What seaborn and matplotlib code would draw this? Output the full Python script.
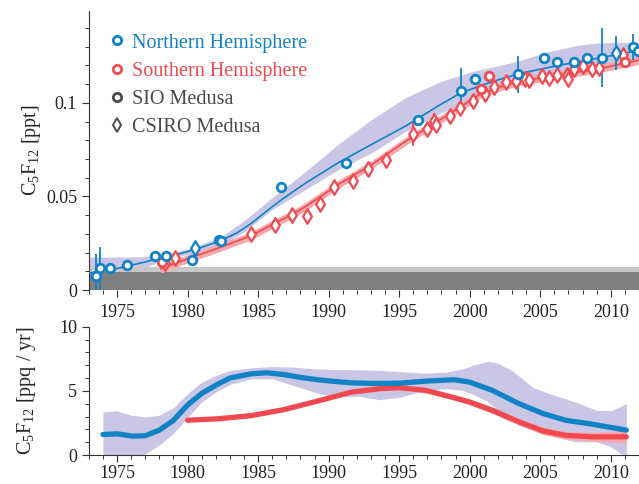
import numpy as np
import pandas as pd
import matplotlib
matplotlib.use("Agg")
import matplotlib.pyplot as plt
from matplotlib.lines import Line2D
from matplotlib.ticker import MultipleLocator
import seaborn as sns

# ---- observations (ppt) ----
nh_sio_year = [1973.5, 1973.8, 1974.5, 1975.7, 1977.7, 1978.5, 1980.3, 1982.2, 1982.4,
               1986.6, 1991.2, 1996.3, 1999.4, 2000.4, 2003.4, 2005.3, 2006.2, 2007.4,
               2008.3, 2009.4, 2011.6, 2011.9]
nh_sio_val = [0.0075, 0.0115, 0.012, 0.0136, 0.018, 0.0183, 0.0158, 0.0265, 0.0263,
              0.0552, 0.068, 0.091, 0.1063, 0.1127, 0.1152, 0.1237, 0.1217, 0.1217,
              0.1238, 0.1242, 0.130, 0.1275]
nh_sio_err = [0.012, 0.0115, 0.001, 0.001, 0.001, 0.001, 0.001, 0.001, 0.001,
              0.001, 0.001, 0.001, 0.0125, 0.001, 0.010, 0.001, 0.001, 0.001,
              0.001, 0.016, 0.007, 0.003]

nh_csiro_year = [1980.5, 2010.4]
nh_csiro_val = [0.0226, 0.1265]
nh_csiro_err = [0.0015, 0.009]

sh_sio_year = [1978.2, 2000.8, 2001.4, 2011.0]
sh_sio_val = [0.0149, 0.1075, 0.1143, 0.1219]
sh_sio_err = [0.001, 0.002, 0.001, 0.003]

sh_csiro_year = [1978.4, 1979.1, 1984.5, 1986.2, 1987.4, 1988.5, 1989.4, 1990.4,
                 1991.7, 1992.8, 1994.1, 1996.0, 1997.0, 1997.5, 1997.6, 1998.6,
                 1999.3, 2000.2, 2001.1, 2001.7, 2002.6, 2003.3, 2003.9, 2004.2,
                 2005.1, 2005.6, 2006.2, 2006.9, 2007.0, 2007.4, 2008.0, 2008.7,
                 2009.2, 2010.9]
sh_csiro_val = [0.0145, 0.017, 0.0298, 0.0346, 0.040, 0.0395, 0.0457, 0.0548,
                0.058, 0.0649, 0.0695, 0.0835, 0.086, 0.0905, 0.0884, 0.0928,
                0.0972, 0.1009, 0.1048, 0.1084, 0.111, 0.1117, 0.1125, 0.112,
                0.1143, 0.1133, 0.1147, 0.115, 0.113, 0.118, 0.1197, 0.118,
                0.1187, 0.1255]
sh_csiro_err = [0.0015, 0.002, 0.0015, 0.0015, 0.002, 0.002, 0.0015, 0.002,
                0.004, 0.0015, 0.0015, 0.0065, 0.002, 0.004, 0.003, 0.002,
                0.002, 0.002, 0.003, 0.002, 0.002, 0.002, 0.002, 0.002,
                0.002, 0.002, 0.002, 0.002, 0.003, 0.003, 0.002, 0.003,
                0.002, 0.003]

# ---- model fits (ppt) ----
nh_fit_year = [1973, 1975, 1977, 1978, 1979, 1980, 1981, 1982.3, 1983.5, 1984.5, 1986.0,
               1986.8, 1988.4, 1990.7, 1993.1, 1995.5, 1997.8, 1999.3, 2000.7, 2002.1,
               2003.5, 2006.3, 2009.2, 2012]
nh_fit_val = [0.009, 0.0115, 0.015, 0.017, 0.0185, 0.0205, 0.0228, 0.0262, 0.0305, 0.0355,
              0.0445, 0.0490, 0.0573, 0.0681, 0.078, 0.0878, 0.0985, 0.1050, 0.109, 0.1125,
              0.1156, 0.120, 0.124, 0.128]

nh_band_year = [1973, 1976, 1978, 1980, 1982.3, 1984, 1986, 1988.4, 1990.7, 1993.1,
                1995.5, 1997.8, 2000.2, 2002.1, 2003.5, 2005.4, 2006.3, 2007.8, 2009.2,
                2010.1, 2012]
nh_band_hi = [0.0176, 0.0176, 0.0185, 0.022, 0.028, 0.037, 0.0493, 0.0636, 0.078, 0.0914,
              0.103, 0.111, 0.1168, 0.120, 0.1225, 0.127, 0.1285, 0.131, 0.132,
              0.1323, 0.1323]
nh_band_lo = [0.005, 0.008, 0.0155, 0.019, 0.024, 0.031, 0.043, 0.0538, 0.0645, 0.0735,
              0.085, 0.094, 0.102, 0.1065, 0.109, 0.1125, 0.1138, 0.115, 0.1165,
              0.118, 0.122]

sh_fit_year = [1978.1, 1980, 1982.2, 1984.5, 1986.0, 1987.4, 1988.4, 1990.7, 1993.1,
               1995.5, 1997.8, 2000.2, 2000.7, 2002.1, 2003.5, 2006.3, 2009.2, 2012]
sh_fit_val = [0.0113, 0.0167, 0.0225, 0.029, 0.035, 0.0403, 0.0448, 0.0565, 0.0672,
              0.0797, 0.0905, 0.102, 0.1045, 0.1085, 0.1115, 0.1147, 0.1183, 0.1228]
sh_fit_err = 0.0022

# ---- growth rates (ppq/yr) ----
nh_rate_year = [1974, 1975, 1976.1, 1977, 1978, 1979, 1980, 1981, 1982.1, 1983, 1984.5,
                1985.6, 1986.8, 1988, 1989.2, 1990.4, 1991.6, 1993, 1995, 1996.9,
                1998.9, 2000, 2001.6, 2003.5, 2005.2, 2006.8, 2008.7, 2011.1]
nh_rate = [1.6, 1.65, 1.47, 1.5, 1.94, 2.7, 3.9, 4.8, 5.5, 6.0, 6.33,
           6.41, 6.28, 6.05, 5.87, 5.74, 5.63, 5.58, 5.6, 5.76,
           5.87, 5.68, 5.04, 4.0, 3.23, 2.71, 2.4, 1.94]

nh_rate_band_year = [1974, 1975, 1976, 1977, 1978, 1979, 1980, 1981, 1982, 1983, 1984.5,
                     1986, 1987.5, 1989, 1990.4, 1992.2, 1993.6, 1995, 1996.9, 1998.3,
                     1999.5, 2000.4, 2001.3, 2002, 2003, 2004.5, 2006, 2007.5, 2009,
                     2010, 2011.1]
nh_rate_hi = [3.36, 3.44, 3.1, 2.97, 3.1, 3.7, 4.78, 5.68, 6.2, 6.59, 6.8,
              6.9, 6.85, 6.72, 6.67, 6.64, 6.59, 6.51, 6.38, 6.46,
              6.72, 7.05, 7.31, 7.15, 6.59, 5.25, 4.65, 4.13, 3.49,
              3.44, 4.0]
nh_rate_lo = [-0.5, -0.5, -0.3, 0.1, 0.78, 1.68, 2.92, 4.13, 4.9, 5.5, 5.94,
              5.94, 5.43, 4.9, 4.52, 4.57, 4.31, 4.5, 5.04, 5.17,
              5.04, 4.65, 4.13, 3.49, 2.71, 2.07, 1.42, 1.03, 1.03,
              0.65, -0.2]

sh_rate_year = [1980, 1982.1, 1984.5, 1986.8, 1989.2, 1991.6, 1993.6, 1995, 1996.9,
                1998.9, 2000, 2001.6, 2003.5, 2005.2, 2006.8, 2008.7, 2011.1]
sh_rate = [2.71, 2.82, 3.07, 3.53, 4.2, 4.9, 5.17, 5.25, 5.04,
           4.47, 4.13, 3.49, 2.58, 1.88, 1.53, 1.42, 1.42]
sh_rate_err = [0.08, 0.08, 0.08, 0.1, 0.1, 0.12, 0.15, 0.15, 0.2,
               0.2, 0.22, 0.25, 0.25, 0.28, 0.3, 0.35, 0.5]

year_ticks = [1975, 1980, 1985, 1990, 1995, 2000, 2005, 2010]

BLUE = "#1282c6"
RED = "#f04a50"
PINK = "#f6a9ad"
LAV = "#c9c7e5"
GREY_TXT = "#4a4a4a"

sns.set_style("ticks")
plt.rcParams["font.family"] = ["Liberation Serif", "DejaVu Serif"]
plt.rcParams["mathtext.fontset"] = "custom"
plt.rcParams["mathtext.rm"] = "Liberation Serif"
plt.rcParams["mathtext.it"] = "Liberation Serif"
plt.rcParams["font.size"] = 13

fig = plt.figure(figsize=(6.39, 4.84), dpi=100)
ax2 = fig.add_axes([0.139, 0.0599, 0.861, 0.2650])
ax1 = fig.add_axes([0.139, 0.4008, 0.861, 0.5762])

# ---------- top panel: mole fractions ----------
ax1.axhspan(0, 0.0098, color="#808080", lw=0, zorder=1)
ax1.axhspan(0.0098, 0.0122, color="#c8c8c8", lw=0, zorder=1)

ax1.fill_between(nh_band_year, nh_band_lo, nh_band_hi, color=LAV, lw=0, zorder=0.5)
sh_lo = np.array(sh_fit_val) - sh_fit_err
sh_hi = np.array(sh_fit_val) + sh_fit_err
ax1.fill_between(sh_fit_year, sh_lo, sh_hi, color=PINK, lw=0, zorder=2)

sns.lineplot(x=nh_fit_year, y=nh_fit_val, ax=ax1, color=BLUE, lw=1.2, zorder=3)
sns.lineplot(x=sh_fit_year, y=sh_fit_val, ax=ax1, color=RED, lw=1.2, zorder=3)

for yrs, vals, errs, col in [(nh_sio_year, nh_sio_val, nh_sio_err, BLUE),
                             (nh_csiro_year, nh_csiro_val, nh_csiro_err, BLUE),
                             (sh_sio_year, sh_sio_val, sh_sio_err, RED),
                             (sh_csiro_year, sh_csiro_val, sh_csiro_err, RED)]:
    ax1.errorbar(yrs, vals, yerr=errs, fmt="none", ecolor=col, elinewidth=1.3,
                 capsize=0, zorder=4)

sns.scatterplot(x=sh_csiro_year, y=sh_csiro_val, ax=ax1, marker="d", s=55,
                facecolor="white", edgecolor=RED, linewidth=1.6, zorder=5)
sns.scatterplot(x=sh_sio_year, y=sh_sio_val, ax=ax1, marker="o", s=38,
                facecolor="white", edgecolor=RED, linewidth=2.0, zorder=5)
sns.scatterplot(x=nh_csiro_year, y=nh_csiro_val, ax=ax1, marker="d", s=55,
                facecolor="white", edgecolor=BLUE, linewidth=1.6, zorder=6)
sns.scatterplot(x=nh_sio_year, y=nh_sio_val, ax=ax1, marker="o", s=38,
                facecolor="white", edgecolor=BLUE, linewidth=2.0, zorder=6)

ax1.set_xlim(1973, 2012)
ax1.set_ylim(0, 0.149)
ax1.yaxis.set_minor_locator(MultipleLocator(0.01))
ax1.set_yticks([0, 0.05, 0.1])
ax1.set_yticklabels(["0", "0.05", "0.1"])
ax1.set_xticks(year_ticks)
ax1.xaxis.set_minor_locator(MultipleLocator(1))
ax1.set_ylabel(r"C$_5$F$_{12}$ [ppt]", fontsize=14.5)
ax1.spines["top"].set_visible(False)
ax1.spines["right"].set_visible(False)
ax1.spines["bottom"].set_visible(False)

handles = [
    Line2D([], [], ls="none", marker="o", ms=6, mfc="white", mec=BLUE, mew=2),
    Line2D([], [], ls="none", marker="o", ms=6, mfc="white", mec=RED, mew=2),
    Line2D([], [], ls="none", marker="o", ms=6, mfc="white", mec=GREY_TXT, mew=2),
    Line2D([], [], ls="none", marker="d", ms=7, mfc="white", mec=GREY_TXT, mew=1.4),
]
labels = ["Northern Hemisphere", "Southern Hemisphere", "SIO Medusa", "CSIRO Medusa"]
leg = ax1.legend(handles, labels, loc="upper left", frameon=False, fontsize=14.5,
                 handlelength=0.6, handletextpad=0.45, labelspacing=0.45,
                 bbox_to_anchor=(0.04, 0.92), borderaxespad=0, borderpad=0)
for txt, col in zip(leg.get_texts(), [BLUE, RED, GREY_TXT, GREY_TXT]):
    txt.set_color(col)

# ---------- bottom panel: growth rates ----------
ax2.fill_between(nh_rate_band_year, nh_rate_lo, nh_rate_hi, color=LAV, lw=0, zorder=0.5)
r_lo = np.array(sh_rate) - np.array(sh_rate_err)
r_hi = np.array(sh_rate) + np.array(sh_rate_err)
ax2.fill_between(sh_rate_year, r_lo, r_hi, color=PINK, lw=0, zorder=1)
sns.lineplot(x=sh_rate_year, y=sh_rate, ax=ax2, color=RED, lw=3.8, zorder=2)
sns.lineplot(x=nh_rate_year, y=nh_rate, ax=ax2, color=BLUE, lw=3.8, zorder=3)

ax2.set_xlim(1973, 2012)
ax2.set_ylim(0, 10)
ax2.set_yticks([0, 5, 10])
ax2.yaxis.set_minor_locator(MultipleLocator(1))
ax2.set_xticks(year_ticks)
ax2.xaxis.set_minor_locator(MultipleLocator(1))
ax2.set_ylabel(r"C$_5$F$_{12}$ [ppq / yr]", fontsize=14.5)
ax2.spines["top"].set_visible(False)
ax2.spines["right"].set_visible(False)

for ax in (ax1, ax2):
    ax.tick_params(axis="both", which="major", direction="out", length=5, width=0.8,
                   color="#333333", labelsize=13, labelcolor="#222222")
    ax.tick_params(axis="both", which="minor", direction="out", length=3, width=0.7,
                   color="#333333")
    for sp in ax.spines.values():
        sp.set_color("#333333")
        sp.set_linewidth(0.8)

ax1.tick_params(axis="x", which="both", bottom=True, labelbottom=True)
ax1.tick_params(axis="x", which="major", pad=5)
ax2.tick_params(axis="x", which="major", pad=2.5)
ax1.yaxis.set_label_coords(-0.084, 0.5)
ax2.yaxis.set_label_coords(-0.092, 0.5)

fig.savefig("out.png", dpi=100)
